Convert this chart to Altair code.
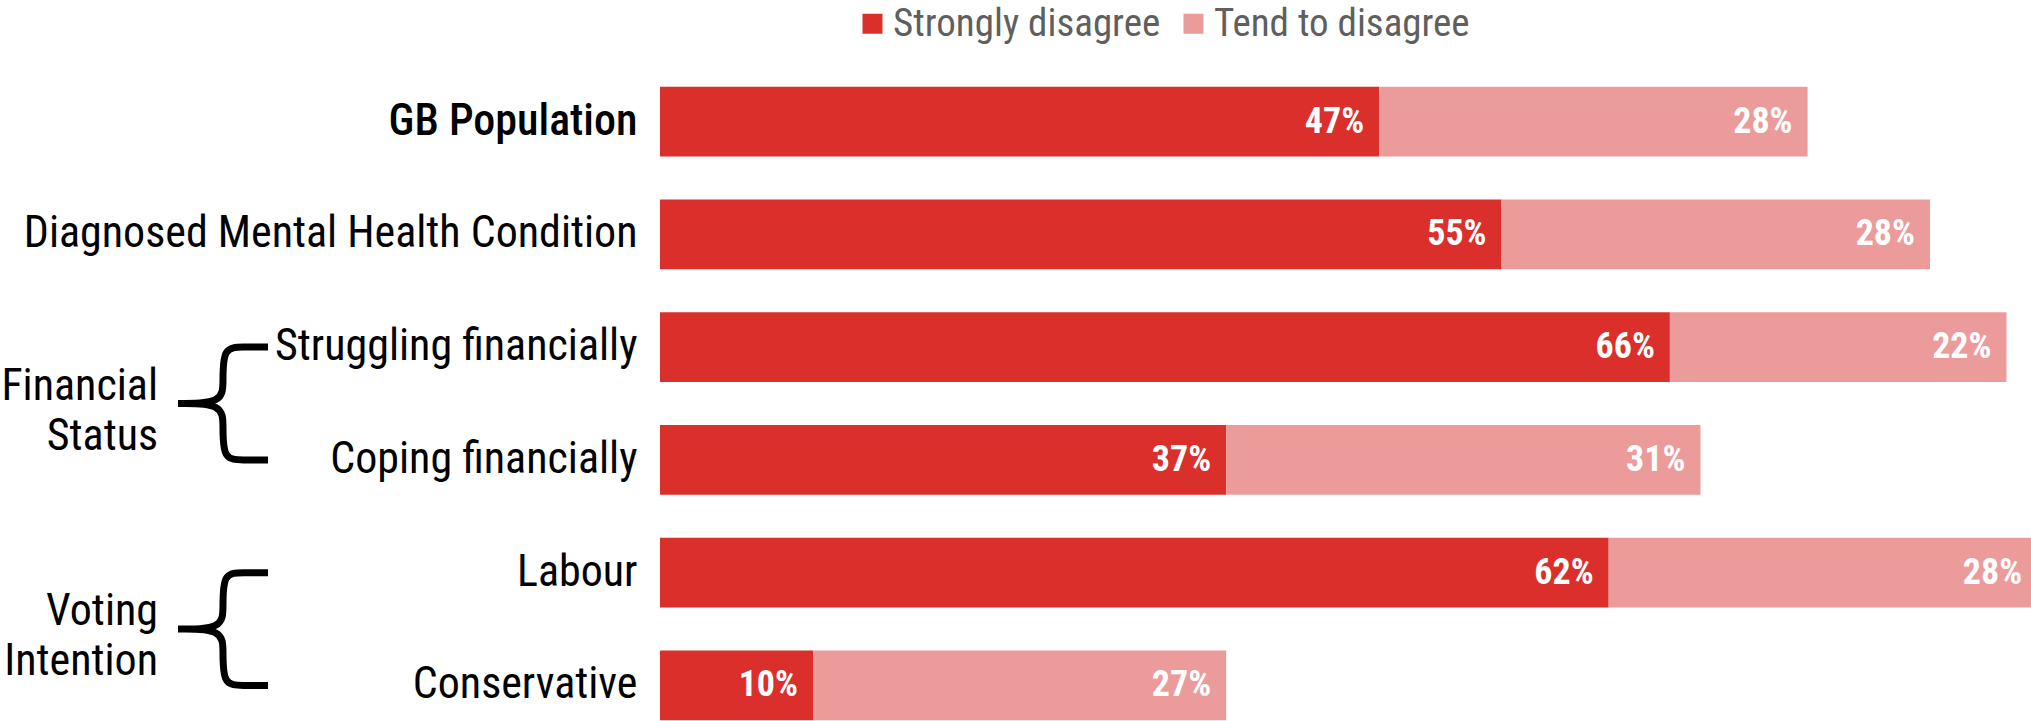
import altair as alt
import pandas as pd

# ---- data ----
groups = ["GB Population", "Diagnosed Mental Health Condition", "Struggling financially",
          "Coping financially", "Labour", "Conservative"]
strongly = [47, 55, 66, 37, 62, 10]
tend = [28, 28, 22, 31, 28, 27]
series = ["Strongly disagree", "Tend to disagree"]
colors = ["#DB2F2B", "#EC9B9B"]

brace_groups = ["Financial\nStatus", "Voting\nIntention"]
brace_start_row = [2, 4]

# brace outline (normalised shape: u 0=tip..1=arm end, v 0=top arm..1=bottom arm)
brace_u = [1, 0.72, 0.5, 0.5, 0.5, 0, 0, 0, 0.5, 0.5, 0.5, 0.72, 1]
brace_v = [0, 0, 0, 0.3, 0.5, 0.5, 0.5, 0.5, 0.5, 0.7, 1, 1, 1]

rows = []
for i, g in enumerate(groups):
    rows.append(dict(group=g, series=series[0], value=strongly[i], order=0, label=f"{strongly[i]}%"))
    rows.append(dict(group=g, series=series[1], value=tend[i], order=1, label=f"{tend[i]}%"))
df = pd.DataFrame(rows)

brace_rows = []
for b, (name, r0) in enumerate(zip(brace_groups, brace_start_row)):
    for k, (u, v) in enumerate(zip(brace_u, brace_v)):
        brace_rows.append(dict(bgroup=name, idx=k, u=u, yy=r0 + v))
brace_df = pd.DataFrame(brace_rows)
label_df = pd.DataFrame(dict(text=brace_groups, yy=[r + 0.5 for r in brace_start_row]))

# ---- layout ----
LEFT, TOP = 660, 81
W, H = 1371, 645
n = len(groups)
p_in, p_out = 0.38, 0.05
step = H / (n - p_in + 2 * p_out)
bw = step * (1 - p_in)
c0 = p_out * step + bw / 2
cN = c0 + (n - 1) * step

FONT = "'Roboto Condensed', 'Noto Sans Condensed', 'Open Sans Condensed', 'Liberation Sans Narrow', 'DejaVu Sans Condensed', Roboto"

base = alt.Chart(df).transform_stack(
    stack="value", groupby=["group"], sort=[alt.SortField("order")], as_=["x0", "x1"]
)

yband = alt.Y(
    "group:N", sort=groups,
    scale=alt.Scale(paddingInner=p_in, paddingOuter=p_out),
    axis=alt.Axis(title=None, ticks=False, domain=False, labelFontSize=44, labelFont=FONT,
                  labelColor="black", labelPadding=23, labelLimit=800,
                  labelFontWeight={"condition": {"test": "datum.value === 'GB Population'", "value": 500},
                                   "value": "normal"}),
)
xscale = alt.Scale(domain=[0, 89.6], nice=False, zero=True)

bars = base.mark_bar().encode(
    y=yband,
    x=alt.X("x0:Q", scale=xscale, axis=None),
    x2="x1:Q",
    color=alt.Color(
        "series:N", scale=alt.Scale(domain=series, range=colors),
        legend=alt.Legend(orient="none", legendX=193, legendY=-77, direction="horizontal",
                          title=None, symbolType="square", symbolSize=400, symbolStrokeWidth=0,
                          labelFontSize=39, labelFont=FONT, labelColor="#5f5f5f",
                          columnPadding=13, labelOffset=1, padding=0, labelLimit=600),
    ),
    order=alt.Order("order:Q"),
)

text = base.mark_text(align="right", baseline="middle", dx=-15, font=FONT, fontSize=36,
                      fontWeight="bold", color="white").encode(
    y=alt.Y("group:N", sort=groups), x=alt.X("x1:Q", scale=xscale), text="label:N"
)

main = alt.layer(bars, text)

ybrace = alt.Scale(domain=[0, n - 1], range=[c0, cN], nice=False, zero=False)

brace = alt.Chart(brace_df).mark_line(interpolate="basis", strokeWidth=7, color="black").encode(
    x=alt.X("u:Q", scale=alt.Scale(domain=[0, 1], range=[178 - LEFT, 268 - LEFT], nice=False), axis=None),
    y=alt.Y("yy:Q", scale=ybrace, axis=None),
    order="idx:Q",
    detail="bgroup:N",
)

glabels = alt.Chart(label_df).mark_text(align="right", baseline="middle", lineBreak="\n",
                                        lineHeight=50, fontSize=44, font=FONT, color="black",
                                        dy=-17).encode(
    x=alt.value(158 - LEFT),
    y=alt.Y("yy:Q", scale=ybrace, axis=None),
    text="text:N",
)

chart = alt.layer(main, brace, glabels).resolve_scale(x="independent", y="independent").properties(
    width=W, height=H,
    padding={"left": LEFT, "top": TOP, "right": 0, "bottom": 0},
    autosize=alt.AutoSizeParams(type="none"),
    background="white",
).configure_view(stroke=None)

chart.save("out.html", embed_options={"renderer": "svg", "actions": False})
